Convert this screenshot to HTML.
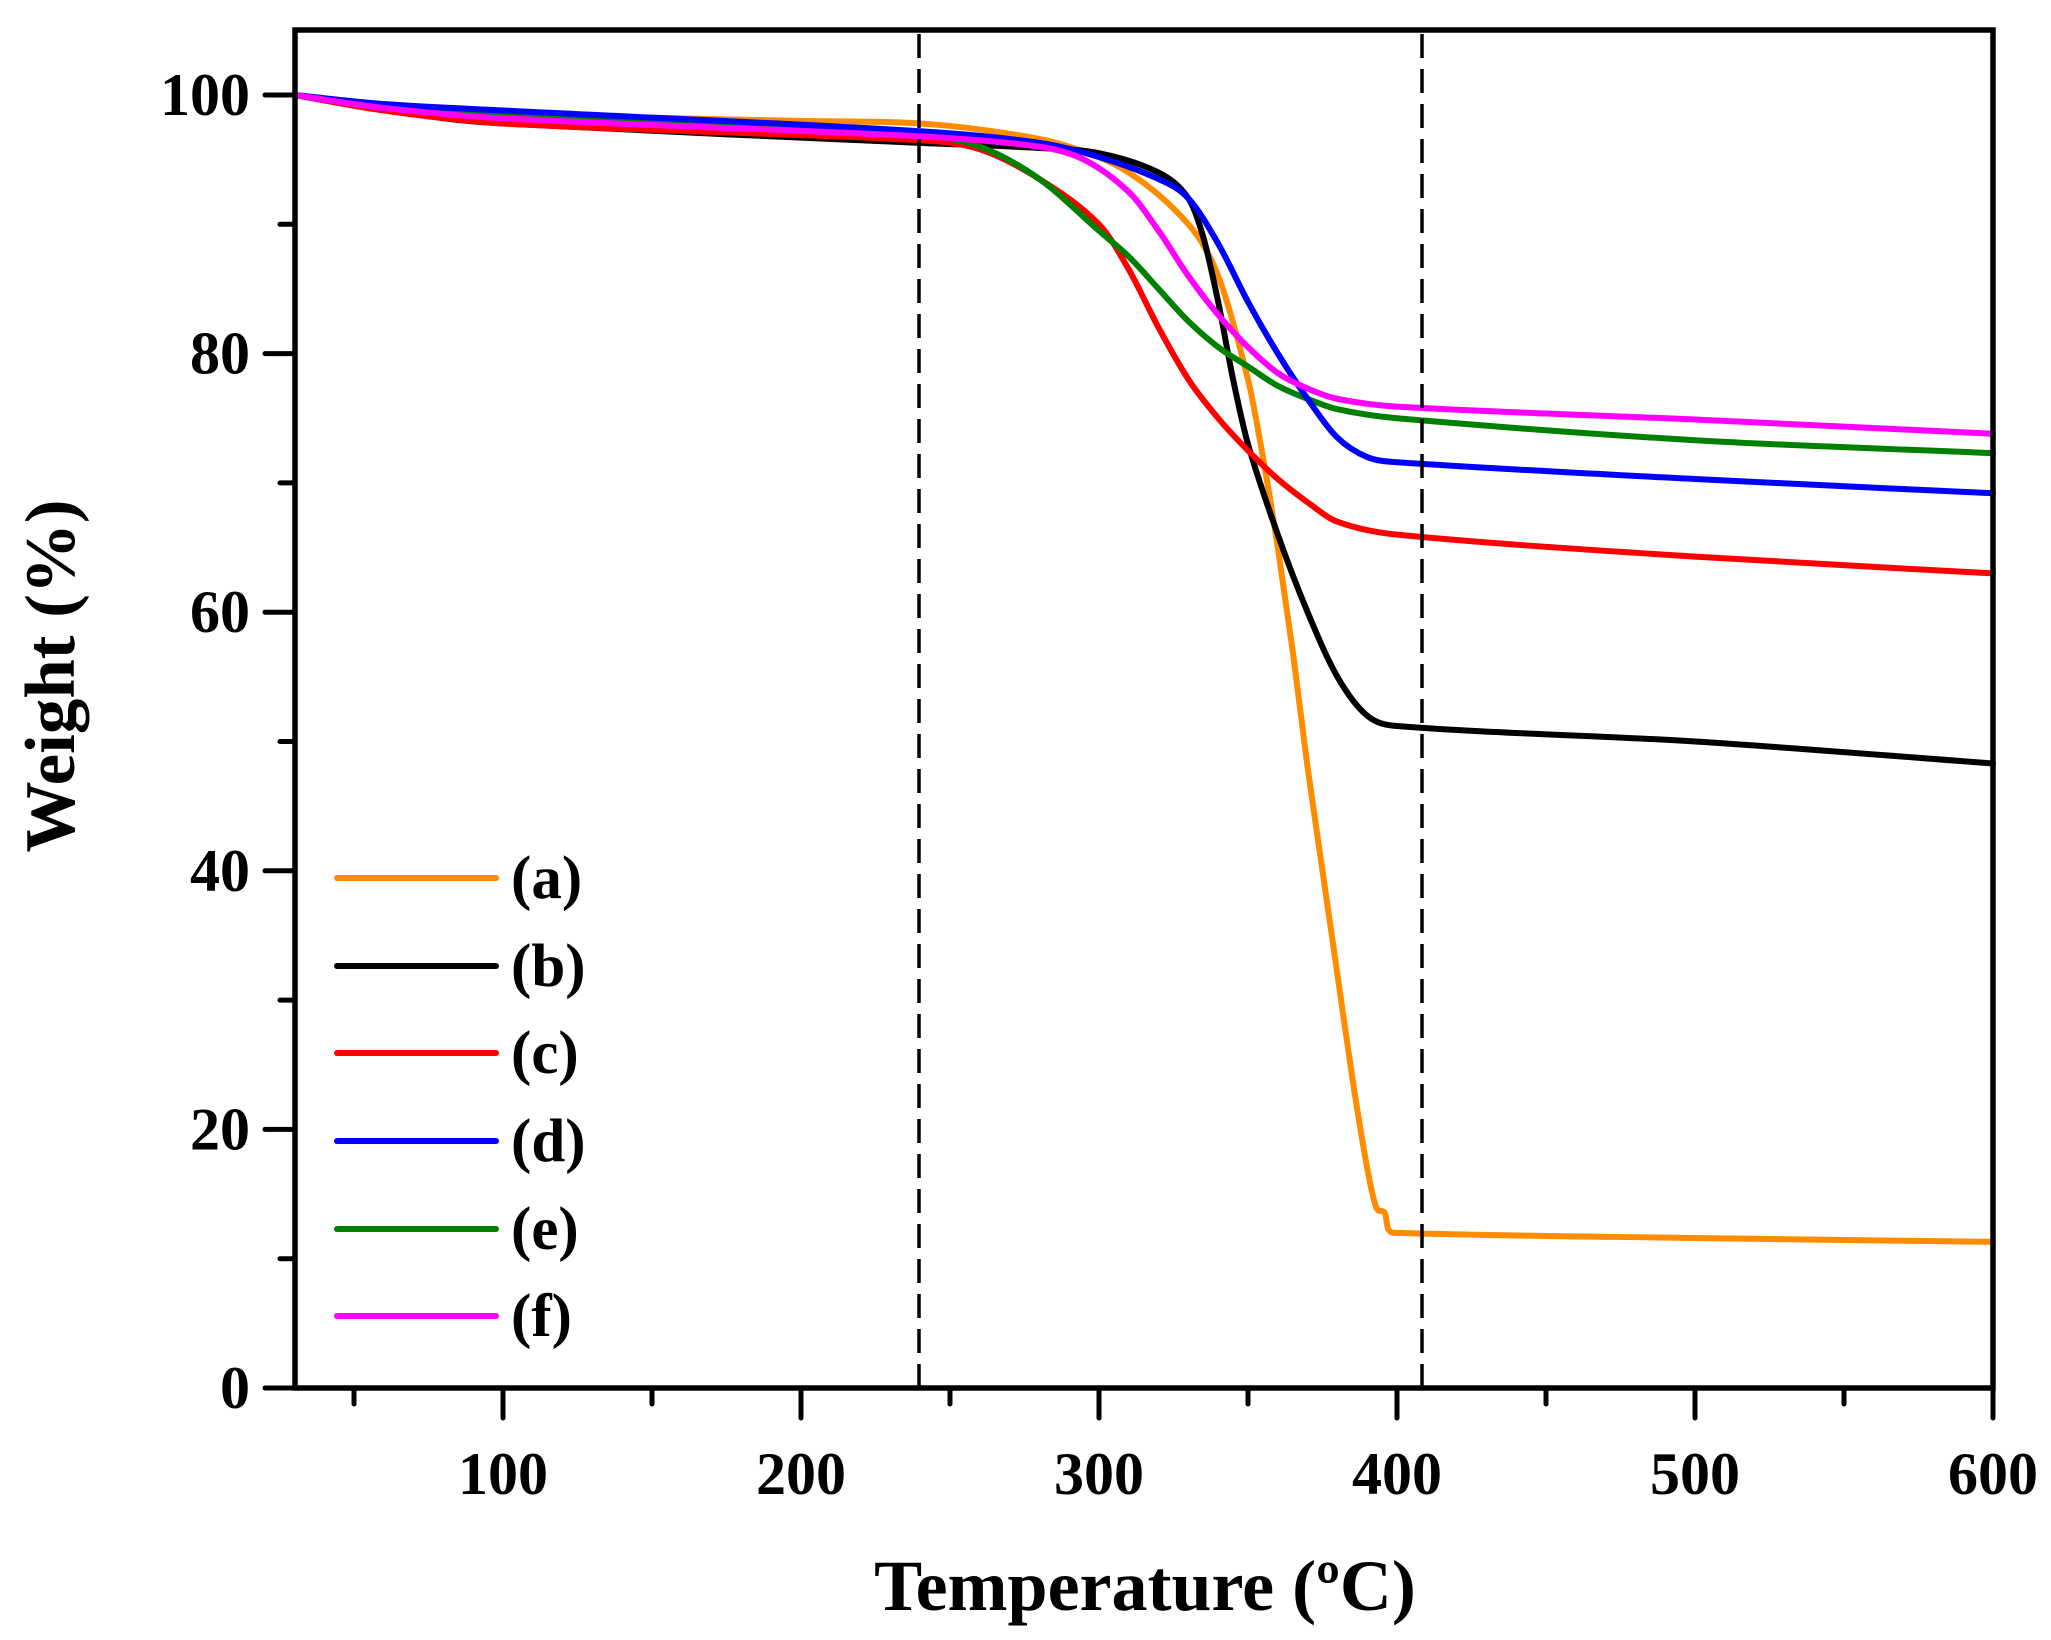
<!DOCTYPE html>
<html><head><meta charset="utf-8"><style>
html,body{margin:0;padding:0;background:#fff;}
svg{display:block;}
text{font-family:"Liberation Serif",serif;font-weight:bold;fill:#000;}
</style></head><body>
<svg id="s" width="2051" height="1640" viewBox="0 0 2051 1640" xmlns="http://www.w3.org/2000/svg">
<rect width="2051" height="1640" fill="#fff"/>
<g id="curves" fill="none" stroke-width="6" stroke-linejoin="round" stroke-linecap="round"></g>
<line x1="919" y1="34" x2="919" y2="1386" stroke="#000" stroke-width="3.5" stroke-dasharray="24,11"/>
<line x1="1422" y1="34" x2="1422" y2="1386" stroke="#000" stroke-width="3.5" stroke-dasharray="24,11"/>
<rect x="295" y="30" width="1698" height="1358" fill="none" stroke="#000" stroke-width="5.5"/>
<g id="ticks" stroke="#000" stroke-width="5" stroke-linecap="round"></g>
<g id="labels" font-size="60"></g>
<g stroke-width="6" stroke-linecap="round">
<line x1="337" y1="878" x2="496" y2="878" stroke="#ff8c00"/>
<line x1="337" y1="966" x2="496" y2="966" stroke="#000"/>
<line x1="337" y1="1053" x2="496" y2="1053" stroke="#ff0000"/>
<line x1="337" y1="1141" x2="496" y2="1141" stroke="#0000ff"/>
<line x1="337" y1="1229" x2="496" y2="1229" stroke="#008000"/>
<line x1="337" y1="1316" x2="496" y2="1316" stroke="#ff00ff"/>
</g>
<g font-size="61">
<text x="511" y="898">(a)</text>
<text x="511" y="986">(b)</text>
<text x="511" y="1073">(c)</text>
<text x="511" y="1161">(d)</text>
<text x="511" y="1249">(e)</text>
<text x="511" y="1336">(f)</text>
</g>
<text x="1145" y="1610" font-size="72" text-anchor="middle">Temperature (ºC)</text>
<text transform="translate(74,676) rotate(-90)" font-size="71" text-anchor="middle">Weight (%)</text>
</svg>
<script>
var X=function(t){return 503+(t-100)*2.98;}, Y=function(w){return 1388-w*12.93;};
var data={
"#ff8c00":[[30,100],[60,99],[100,98.5],[200,98],[240,97.8],[270,97],[290,96],[310,94],[330,90],[340,86],[350,78],[355,72],[360,65],[365,57],[370,48],[375,40],[380,32],[385,24],[390,17],[393,14],[396,13.5],[397,12.3],[400,12],[500,11.6],[600,11.3]],
"#000000":[[30,100],[60,99],[80,98.2],[100,97.8],[200,96.7],[240,96.3],[280,95.9],[300,95.5],[320,94],[330,92],[335,89],[340,84],[345,78],[350,73],[360,66],[370,60],[380,55],[390,52],[400,51.2],[500,50],[600,48.3]],
"#ff0000":[[30,100],[60,98.8],[100,97.8],[240,96.5],[260,95.8],[280,93.5],[300,90],[310,86.5],[320,82],[330,78],[340,75],[350,72.5],[360,70.3],[370,68.5],[380,67],[400,66],[500,64.3],[600,63]],
"#008000":[[30,100],[60,99.2],[100,98.5],[240,96.9],[260,96],[280,93.5],[300,89.5],[310,87.5],[320,85],[330,82.5],[340,80.5],[350,79],[360,77.5],[370,76.5],[380,75.7],[400,75],[500,73.3],[600,72.3]],
"#0000ff":[[30,100],[60,99.3],[100,98.8],[240,97.2],[280,96.3],[300,95.2],[320,93.5],[330,92],[340,88.5],[350,84],[360,80],[370,76.5],[380,73.5],[390,72],[400,71.6],[500,70.3],[600,69.2]],
"#ff00ff":[[30,100],[60,99],[100,98.2],[240,96.8],[280,96],[295,95],[310,92.5],[320,89.5],[330,86],[340,83],[350,80.5],[360,78.5],[370,77.3],[380,76.5],[400,75.9],[500,74.9],[600,73.8]]};
var ns="http://www.w3.org/2000/svg",g=document.getElementById("curves");
for(var c in data){var p=data[c].map(function(a){return [X(a[0]),Y(a[1])];});
var n=p.length,m=[];
for(var i=0;i<n;i++){var a=p[Math.max(0,i-1)],b=p[Math.min(n-1,i+1)];m.push((b[1]-a[1])/(b[0]-a[0]));}
var d="M"+p[0][0]+","+p[0][1];
for(var i=0;i<n-1;i++){var p1=p[i],p2=p[i+1],dx=(p2[0]-p1[0])/3;
d+=" C"+(p1[0]+dx)+","+(p1[1]+m[i]*dx)+" "+(p2[0]-dx)+","+(p2[1]-m[i+1]*dx)+" "+p2[0]+","+p2[1];}
var e=document.createElementNS(ns,"path");e.setAttribute("d",d);e.setAttribute("stroke",c);g.appendChild(e);}
var tk=document.getElementById("ticks"),lb=document.getElementById("labels");
function L(x1,y1,x2,y2){var e=document.createElementNS(ns,"line");e.setAttribute("x1",x1);e.setAttribute("y1",y1);e.setAttribute("x2",x2);e.setAttribute("y2",y2);tk.appendChild(e);}
function T(x,y,s,a){var e=document.createElementNS(ns,"text");e.setAttribute("x",x);e.setAttribute("y",y);e.setAttribute("text-anchor",a);e.textContent=s;lb.appendChild(e);}
for(var t=50;t<=600;t+=50){var x=X(t);if(t%100==0){L(x,1388,x,1418);T(x,1494,""+t,"middle");}else L(x,1388,x,1404);}
for(var w=0;w<=100;w+=10){var y=Y(w);if(w%20==0){L(265,y,295,y);T(250,y+20,""+w,"end");}else L(280,y,295,y);}
</script>
</body></html>
